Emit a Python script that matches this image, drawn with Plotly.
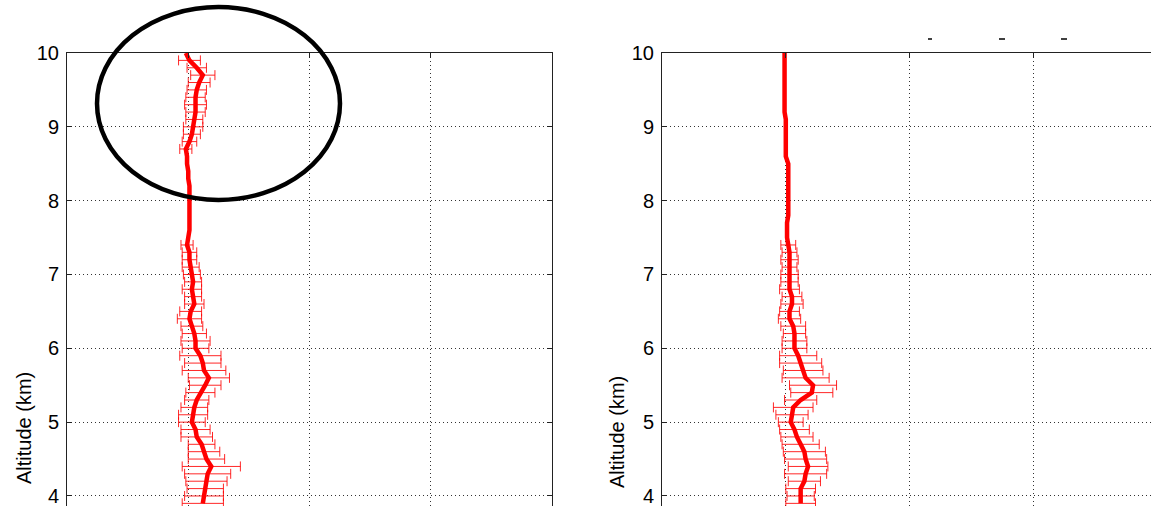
import plotly.graph_objects as go

# Altitude levels (km)
altitude = [10.0, 9.9, 9.8, 9.7, 9.6, 9.5, 9.4, 9.3, 9.2, 9.1,
            9.0, 8.9, 8.8, 8.7, 8.6, 8.5, 8.4, 8.3, 8.2, 8.1,
            8.0, 7.9, 7.8, 7.7, 7.6, 7.5, 7.4, 7.3, 7.2, 7.1,
            7.0, 6.9, 6.8, 6.7, 6.6, 6.5, 6.4, 6.3, 6.2, 6.1,
            6.0, 5.9, 5.8, 5.7, 5.6, 5.5, 5.4, 5.3, 5.2, 5.1,
            5.0, 4.9, 4.8, 4.7, 4.6, 4.5, 4.4, 4.3, 4.2, 4.1,
            4.0, 3.9]

# Left panel profile and its error (half-width)
left_value = [0.98, 1.01, 1.07, 1.12, 1.09, 1.07, 1.06, 1.06, 1.06, 1.05,
              1.04, 1.03, 1.01, 0.98, 0.99, 0.99, 1.00, 1.00, 1.01, 1.01,
              1.01, 1.01, 1.01, 1.01, 1.01, 1.00, 0.99, 1.01, 1.01, 1.02,
              1.03, 1.04, 1.03, 1.04, 1.05, 1.02, 1.01, 1.03, 1.05, 1.06,
              1.06, 1.10, 1.12, 1.13, 1.17, 1.14, 1.10, 1.07, 1.05, 1.04,
              1.03, 1.06, 1.07, 1.11, 1.13, 1.15, 1.19, 1.16, 1.15, 1.14,
              1.13, 1.12]
left_error = [0.00, 0.09, 0.08, 0.10, 0.09, 0.08, 0.08, 0.09, 0.08, 0.07,
              0.08, 0.07, 0.06, 0.05, 0.00, 0.00, 0.00, 0.00, 0.00, 0.00,
              0.00, 0.00, 0.00, 0.00, 0.00, 0.00, 0.05, 0.06, 0.06, 0.07,
              0.07, 0.07, 0.08, 0.07, 0.08, 0.09, 0.10, 0.09, 0.10, 0.12,
              0.11, 0.17, 0.15, 0.18, 0.17, 0.13, 0.12, 0.10, 0.11, 0.12,
              0.11, 0.12, 0.13, 0.11, 0.13, 0.15, 0.24, 0.19, 0.17, 0.15,
              0.16, 0.17]

# Right panel profile and its error (half-width)
right_value = [0.99, 0.99, 0.99, 0.99, 0.99, 0.99, 0.99, 0.99, 0.99, 1.00,
               1.00, 1.00, 1.00, 1.00, 1.00, 1.02, 1.02, 1.02, 1.02, 1.02,
               1.02, 1.02, 1.02, 1.01, 1.01, 1.01, 1.02, 1.03, 1.03, 1.03,
               1.03, 1.03, 1.03, 1.05, 1.05, 1.03, 1.03, 1.06, 1.07, 1.07,
               1.07, 1.10, 1.12, 1.14, 1.16, 1.22, 1.21, 1.12, 1.06, 1.05,
               1.04, 1.07, 1.09, 1.12, 1.15, 1.16, 1.18, 1.16, 1.15, 1.12,
               1.12, 1.12]
right_error = [0.00, 0.00, 0.00, 0.00, 0.00, 0.00, 0.00, 0.00, 0.00, 0.00,
               0.00, 0.00, 0.00, 0.00, 0.00, 0.00, 0.00, 0.00, 0.00, 0.00,
               0.00, 0.00, 0.00, 0.00, 0.00, 0.00, 0.06, 0.06, 0.07, 0.06,
               0.07, 0.07, 0.08, 0.08, 0.09, 0.08, 0.09, 0.10, 0.09, 0.10,
               0.10, 0.15, 0.17, 0.16, 0.19, 0.19, 0.17, 0.13, 0.16, 0.13,
               0.10, 0.12, 0.13, 0.15, 0.17, 0.17, 0.16, 0.17, 0.13, 0.12,
               0.11, 0.12]

y_ticks = [4, 5, 6, 7, 8, 9, 10]
y_title = "Altitude (km)"

W, H = 1151, 506
FONT = "Liberation Sans, Arial, Helvetica, sans-serif"
RED = "#ff0000"

fig = go.Figure()


def add_panel(values, errors, xa, ya):
    ey = [a for a, e in zip(altitude, errors) if e > 0]
    ex = [v for v, e in zip(values, errors) if e > 0]
    ee = [e for e in errors if e > 0]
    fig.add_trace(go.Scatter(
        x=ex, y=ey, mode="markers", xaxis=xa, yaxis=ya,
        marker=dict(size=1, color="rgba(0,0,0,0)"),
        error_x=dict(type="data", array=ee, symmetric=True,
                     color="rgba(255,0,0,0.85)", thickness=1, width=5),
        showlegend=False, hoverinfo="skip"))
    fig.add_trace(go.Scatter(
        x=values, y=altitude, mode="lines", xaxis=xa, yaxis=ya,
        line=dict(color=RED, width=4.5),
        showlegend=False))


add_panel(left_value, left_error, "x", "y")
add_panel(right_value, right_error, "x2", "y2")

top = 1 - 53 / H
ymin = 10 - (H - 53) / 73.83
GRID_DASH = "1px,3px"

common_x = dict(side="top", showline=True, linecolor="#222", linewidth=1,
                ticks="inside", ticklen=5, tickcolor="#222",
                showticklabels=False, dtick=1, tick0=0,
                showgrid=True, gridcolor="#333", griddash=GRID_DASH,
                gridwidth=1, zeroline=False, fixedrange=True,
                automargin=False)
common_y = dict(range=[ymin, 10], tickvals=y_ticks, showline=True,
                linecolor="#222", linewidth=1, ticks="inside", ticklen=5,
                tickcolor="#222", showgrid=True, gridcolor="#333",
                griddash=GRID_DASH, gridwidth=1, zeroline=False,
                tickfont=dict(family=FONT, size=20, color="#000"),
                ticklabelstandoff=3, ticklabeloverflow="allow",
                automargin=False)

fig.update_layout(
    width=W, height=H,
    margin=dict(l=0, r=0, t=0, b=0, pad=0, autoexpand=False),
    paper_bgcolor="white", plot_bgcolor="white",
    xaxis=dict(common_x, domain=[67 / W, 552 / W], range=[0, 4], anchor="y"),
    yaxis=dict(common_y, domain=[0, top], mirror="ticks", anchor="x"),
    xaxis2=dict(common_x, domain=[662 / W, 1.0],
                range=[0, (W - 662) / 123.8], anchor="y2"),
    yaxis2=dict(common_y, domain=[0, top], anchor="x2"),
    annotations=[
        dict(text=y_title, textangle=-90, xref="paper", yref="paper",
             x=24 / W, y=1 - 428 / H, showarrow=False,
             xanchor="center", yanchor="middle",
             font=dict(family=FONT, size=20, color="#000")),
        dict(text=y_title, textangle=-90, xref="paper", yref="paper",
             x=617 / W, y=1 - 432 / H, showarrow=False,
             xanchor="center", yanchor="middle",
             font=dict(family=FONT, size=20, color="#000")),
    ],
    shapes=[
        dict(type="circle", xref="paper", yref="paper",
             x0=97 / W, x1=340 / W, y0=1 - 200 / H, y1=1 - 7 / H,
             line=dict(color="black", width=4.5)),
        dict(type="line", xref="paper", yref="paper",
             x0=928 / W, x1=932 / W, y0=1 - 39 / H, y1=1 - 39 / H,
             line=dict(color="black", width=1.5)),
        dict(type="line", xref="paper", yref="paper",
             x0=999 / W, x1=1005 / W, y0=1 - 39 / H, y1=1 - 39 / H,
             line=dict(color="black", width=1.5)),
        dict(type="line", xref="paper", yref="paper",
             x0=1061 / W, x1=1067 / W, y0=1 - 39 / H, y1=1 - 39 / H,
             line=dict(color="black", width=1.5)),
    ],
)

fig.write_html("out.html", config={"displayModeBar": False})
